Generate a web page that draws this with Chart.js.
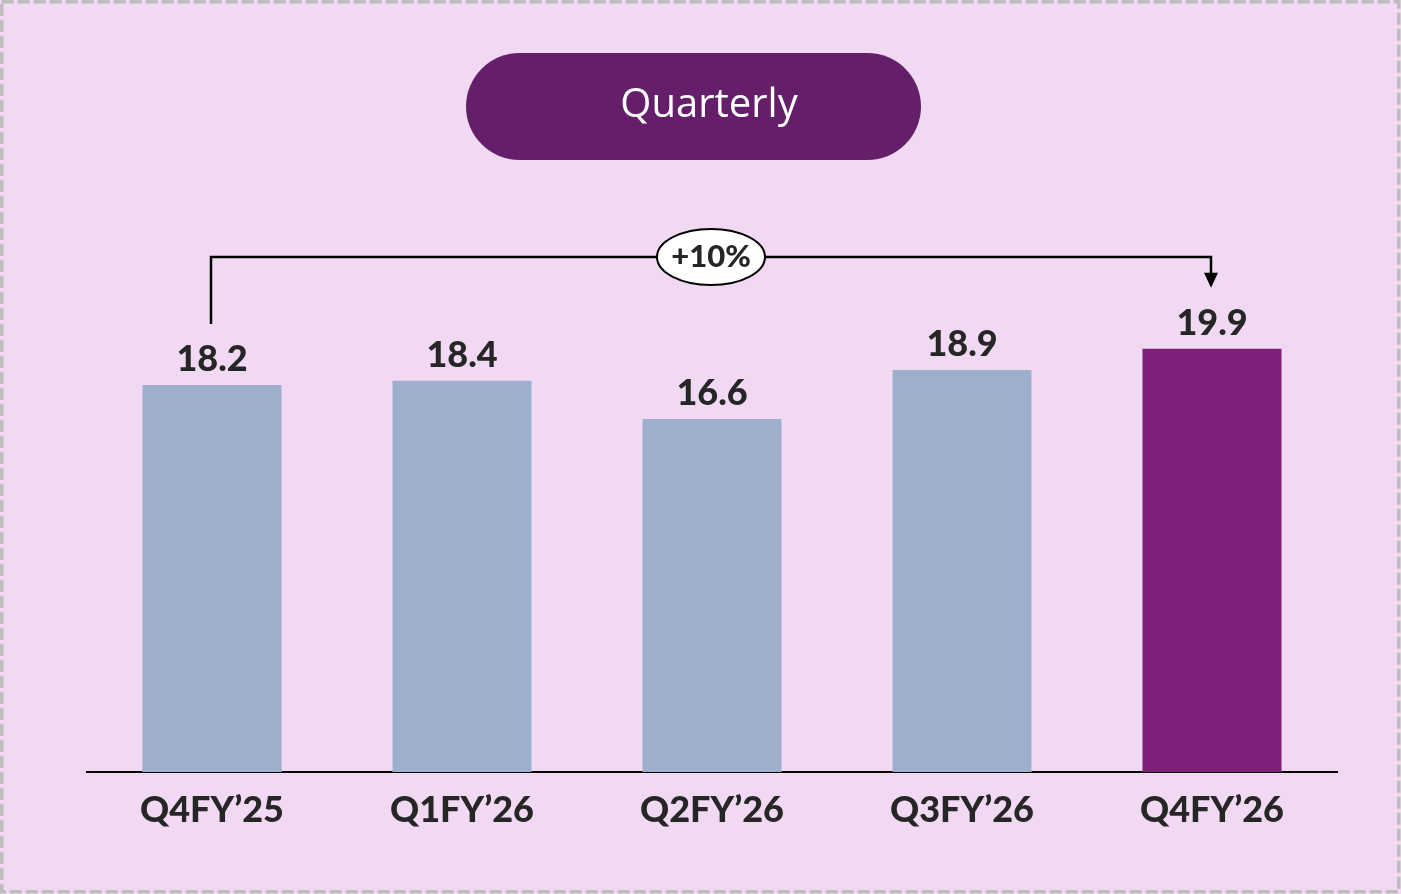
<!DOCTYPE html>
<html><head><meta charset="utf-8">
<script src="https://cdn.jsdelivr.net/npm/chart.js@4.4.0/dist/chart.umd.min.js"></script>
<style>html,body{margin:0;padding:0;background:#F2D9F3;}#wrap{width:1401px;height:894px;position:relative;}</style>
</head><body><div id="wrap"><canvas id="c" width="1401" height="894"></canvas></div>
<script>
const categories = ["Q4FY\u201925", "Q1FY\u201926", "Q2FY\u201926", "Q3FY\u201926", "Q4FY\u201926"];
const values = [18.2, 18.4, 16.6, 18.9, 19.9];
const valueLabels = ["18.2", "18.4", "16.6", "18.9", "19.9"];
const growthLabel = "+10%";
const titleText = "Quarterly";

const barColors = ["#9DAFCB", "#9DAFCB", "#9DAFCB", "#9DAFCB", "#7E1F7A"];
const textColor = "#262626";
const FONT = "Lato, 'Open Sans', sans-serif";

const decor = {
  id: 'decor',
  beforeDraw(chart) {
    const ctx = chart.ctx;
    ctx.save();
    ctx.fillStyle = '#F2D9F3';
    ctx.fillRect(0, 0, chart.width, chart.height);
    ctx.setLineDash([12, 4]);
    ctx.strokeStyle = '#BDBDBD';
    ctx.lineWidth = 3.5;
    ctx.strokeRect(1.75, 1.75, chart.width - 4, chart.height - 4);
    ctx.setLineDash([]);
    // pill
    const px = 466, py = 53, pw = 455, ph = 107, r = 53.5;
    ctx.fillStyle = '#651F6A';
    ctx.beginPath();
    ctx.moveTo(px + r, py);
    ctx.lineTo(px + pw - r, py);
    ctx.arc(px + pw - r, py + r, r, -Math.PI / 2, Math.PI / 2);
    ctx.lineTo(px + r, py + ph);
    ctx.arc(px + r, py + r, r, Math.PI / 2, Math.PI * 1.5);
    ctx.closePath();
    ctx.fill();
    ctx.fillStyle = '#FFFFFF';
    ctx.font = "500 40px 'Open Sans', sans-serif";
    ctx.textAlign = 'center';
    ctx.textBaseline = 'middle';
    ctx.fillText(titleText, 709, 106);
    ctx.restore();
  },
  afterDatasetsDraw(chart) {
    const ctx = chart.ctx;
    const meta = chart.getDatasetMeta(0);
    ctx.save();
    ctx.fillStyle = textColor;
    ctx.font = "900 36px " + FONT;
    ctx.textAlign = 'center';
    ctx.textBaseline = 'alphabetic';
    meta.data.forEach((bar, i) => {
      ctx.fillText(valueLabels[i], bar.x, bar.y - 14);
    });
    // bracket
    const first = meta.data[0], last = meta.data[meta.data.length - 1];
    const yTop = 257;
    const x1 = first.x - 1, x2 = last.x - 1;
    ctx.strokeStyle = '#000';
    ctx.lineWidth = 2.5;
    ctx.beginPath();
    ctx.moveTo(x1, first.y - 61);
    ctx.lineTo(x1, yTop);
    ctx.lineTo(x2, yTop);
    ctx.lineTo(x2, last.y - 75);
    ctx.stroke();
    ctx.fillStyle = '#000';
    ctx.beginPath();
    ctx.moveTo(x2 - 7, last.y - 76);
    ctx.lineTo(x2 + 7, last.y - 76);
    ctx.lineTo(x2, last.y - 61);
    ctx.closePath();
    ctx.fill();
    // ellipse
    const cx = (x1 + x2) / 2;
    ctx.fillStyle = '#FFFFFF';
    ctx.lineWidth = 2;
    ctx.beginPath();
    ctx.ellipse(cx, yTop, 54, 28, 0, 0, Math.PI * 2);
    ctx.fill();
    ctx.stroke();
    ctx.fillStyle = textColor;
    ctx.font = "900 31px " + FONT;
    ctx.textBaseline = 'middle';
    ctx.fillText(growthLabel, cx, yTop);
    ctx.restore();
  }
};

new Chart(document.getElementById('c'), {
  type: 'bar',
  data: {
    labels: categories,
    datasets: [{ data: values, backgroundColor: barColors, borderWidth: 0,
      categoryPercentage: 1, barPercentage: 0.556 }]
  },
  options: {
    responsive: false,
    animation: false,
    devicePixelRatio: 1,
    layout: { padding: { top: 134, left: 87, right: 64, bottom: 0 } },
    plugins: { legend: { display: false }, tooltip: { enabled: false } },
    scales: {
      y: { display: false, min: 0, max: 30 },
      x: {
        grid: { display: false, drawTicks: false },
        border: { display: true, color: '#000', width: 2 },
        ticks: { color: textColor, font: { family: FONT, size: 36, weight: '900' }, padding: 17 },
        afterFit(s) { s.height = 122; }
      }
    }
  },
  plugins: [decor]
});
</script>
</body></html>
